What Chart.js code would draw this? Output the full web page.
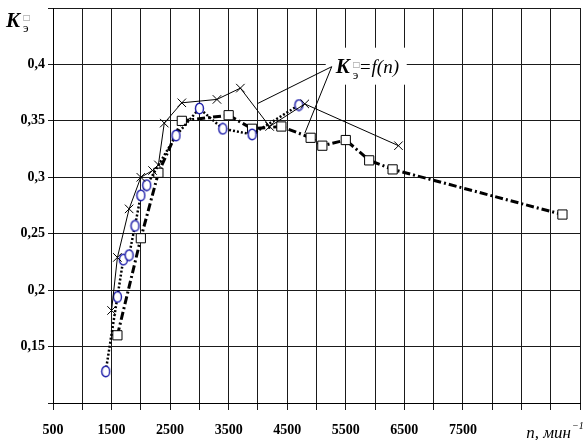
<!DOCTYPE html>
<html>
<head>
<meta charset="utf-8">
<title>K = f(n)</title>
<script src="https://cdn.jsdelivr.net/npm/chart.js"></script>
<style>
  body { margin: 0; background: #fff; }
  #wrap { width: 583px; height: 440px; }
</style>
</head>
<body>
<div id="wrap"><canvas id="chart" width="583" height="440"></canvas></div>
<script>
// engine speed n (rpm) and coefficient K, one pair of arrays per curve
const nCross = [1500, 1600, 1800, 2000, 2200, 2300, 2400, 2700, 3300, 3700, 4200, 4800, 6400];
const kCross = [0.182, 0.229, 0.272, 0.300, 0.306, 0.311, 0.348, 0.366, 0.369, 0.379, 0.345, 0.365, 0.328];

const nCircle = [1400, 1600, 1700, 1800, 1900, 2000, 2100, 2600, 3000, 3400, 3900, 4700];
const kCircle = [0.128, 0.194, 0.227, 0.231, 0.257, 0.284, 0.293, 0.337, 0.361, 0.343, 0.338, 0.364];

const nSquare = [1600, 2000, 2300, 2700, 3500, 3900, 4400, 4900, 5100, 5500, 5900, 6300, 9200];
const kSquare = [0.160, 0.246, 0.304, 0.350, 0.355, 0.343, 0.345, 0.335, 0.328, 0.333, 0.315, 0.307, 0.267];

const nTickLabels = [500, 1500, 2500, 3500, 4500, 5500, 6500, 7500];
const kTickLabels = [0.15, 0.2, 0.25, 0.3, 0.35, 0.4];

// callout "K=f(n)" and where its two leader lines point
const noteAnchor = { x: 5260, y: 0.398 };
const noteTargets = [{ x: 4000, y: 0.3655 }, { x: 4800, y: 0.339 }];

const toPoints = (xs, ys) => xs.map((v, i) => ({ x: v, y: ys[i] }));

// open blue oval marker
const oval = document.createElement('canvas');
oval.width = 11;
oval.height = 13;
const oc = oval.getContext('2d');
oc.fillStyle = '#fff';
oc.strokeStyle = '#1a1aa8';
oc.lineWidth = 1.4;
oc.beginPath();
oc.ellipse(5.5, 6.5, 4, 5.3, 0, 0, Math.PI * 2);
oc.fill();
oc.stroke();

const serif = '"Liberation Serif", "DejaVu Serif", serif';

const notes = {
    id: 'notes',
    beforeDatasetsDraw(chart) {
        const { ctx, scales: { x, y } } = chart;
        const ax = x.getPixelForValue(noteAnchor.x);
        const ay = y.getPixelForValue(noteAnchor.y);
        ctx.save();
        ctx.fillStyle = '#fff';
        ctx.fillRect(ax - 6, ay - 19, 81, 37);
        ctx.restore();
    },
    afterDatasetsDraw(chart) {
        const { ctx, chartArea, scales: { x, y } } = chart;
        const ax = x.getPixelForValue(noteAnchor.x);
        const ay = y.getPixelForValue(noteAnchor.y);
        ctx.save();
        ctx.strokeStyle = '#000';
        ctx.lineWidth = 1;
        noteTargets.forEach(t => {
            ctx.beginPath();
            ctx.moveTo(ax, ay);
            ctx.lineTo(x.getPixelForValue(t.x), y.getPixelForValue(t.y));
            ctx.stroke();
        });

        ctx.fillStyle = '#000';
        ctx.textBaseline = 'alphabetic';
        ctx.textAlign = 'left';
        // callout text
        ctx.font = 'italic bold 21px ' + serif;
        ctx.fillText('K', ax + 4, ay + 6);
        ctx.font = '8px "DejaVu Sans"';
        ctx.fillStyle = '#888';
        ctx.fillText('□', ax + 21, ay);
        ctx.fillStyle = '#000';
        ctx.font = '13px ' + serif;
        ctx.fillText('э', ax + 21, ay + 12);
        ctx.font = 'italic 19px ' + serif;
        ctx.fillText('=f(n)', ax + 27, ay + 6);

        // y axis title
        ctx.font = 'italic bold 21px ' + serif;
        ctx.fillText('K', 6, 27);
        ctx.font = '8px "DejaVu Sans"';
        ctx.fillStyle = '#888';
        ctx.fillText('□', 23, 20);
        ctx.fillStyle = '#000';
        ctx.font = '13px ' + serif;
        ctx.fillText('э', 23, 32);

        // x axis title
        ctx.textAlign = 'right';
        ctx.font = 'italic 17px ' + serif;
        ctx.fillText('n, мин', chartArea.right - 9, 438);
        ctx.textAlign = 'left';
        ctx.font = 'italic 10px ' + serif;
        ctx.fillText('−1', chartArea.right - 8, 429);
        ctx.restore();
    }
};

new Chart(document.getElementById('chart'), {
    type: 'line',
    data: {
        datasets: [
            {
                data: toPoints(nCross, kCross),
                borderColor: '#000',
                borderWidth: 1,
                pointStyle: 'crossRot',
                pointRadius: 6,
                pointBorderColor: '#000',
                pointBorderWidth: 1,
                fill: false
            },
            {
                data: toPoints(nCircle, kCircle),
                borderColor: '#000',
                borderWidth: 2.5,
                borderDash: [2, 2],
                pointStyle: oval,
                fill: false
            },
            {
                data: toPoints(nSquare, kSquare),
                borderColor: '#000',
                borderWidth: 3,
                borderDash: [8, 3, 2, 3],
                pointStyle: 'rect',
                pointRadius: 6.5,
                pointBackgroundColor: '#fff',
                pointBorderColor: '#000',
                pointBorderWidth: 1,
                fill: false
            }
        ]
    },
    options: {
        responsive: false,
        animation: false,
        layout: { autoPadding: false, padding: { top: 8, right: 3, left: 0, bottom: 0 } },
        plugins: {
            legend: { display: false },
            tooltip: { enabled: false }
        },
        scales: {
            x: {
                type: 'linear',
                min: 500,
                max: 9500,
                afterFit: s => {
                    s.height = 37;
                    s.paddingLeft = 0;
                    s.paddingRight = 0;
                },
                ticks: {
                    stepSize: 500,
                    autoSkip: false,
                    maxRotation: 0,
                    padding: 12,
                    color: '#000',
                    font: { family: serif, size: 14, weight: 'bold' },
                    callback: v => nTickLabels.includes(v) ? String(v) : ''
                },
                grid: { color: '#1a1a1a', lineWidth: 1, tickLength: 7 },
                border: { color: '#000' }
            },
            y: {
                min: 0.1,
                max: 0.45,
                afterFit: s => {
                    s.width = 53;
                    s.paddingTop = 0;
                    s.paddingBottom = 0;
                },
                ticks: {
                    stepSize: 0.05,
                    padding: 3,
                    color: '#000',
                    font: { family: serif, size: 14, weight: 'bold' },
                    callback: v => {
                        const r = Math.round(v * 100) / 100;
                        return kTickLabels.includes(r) ? String(r).replace('.', ',') : '';
                    }
                },
                grid: { color: '#1a1a1a', lineWidth: 1, tickLength: 5 },
                border: { color: '#000' }
            }
        }
    },
    plugins: [notes]
});
</script>
</body>
</html>
